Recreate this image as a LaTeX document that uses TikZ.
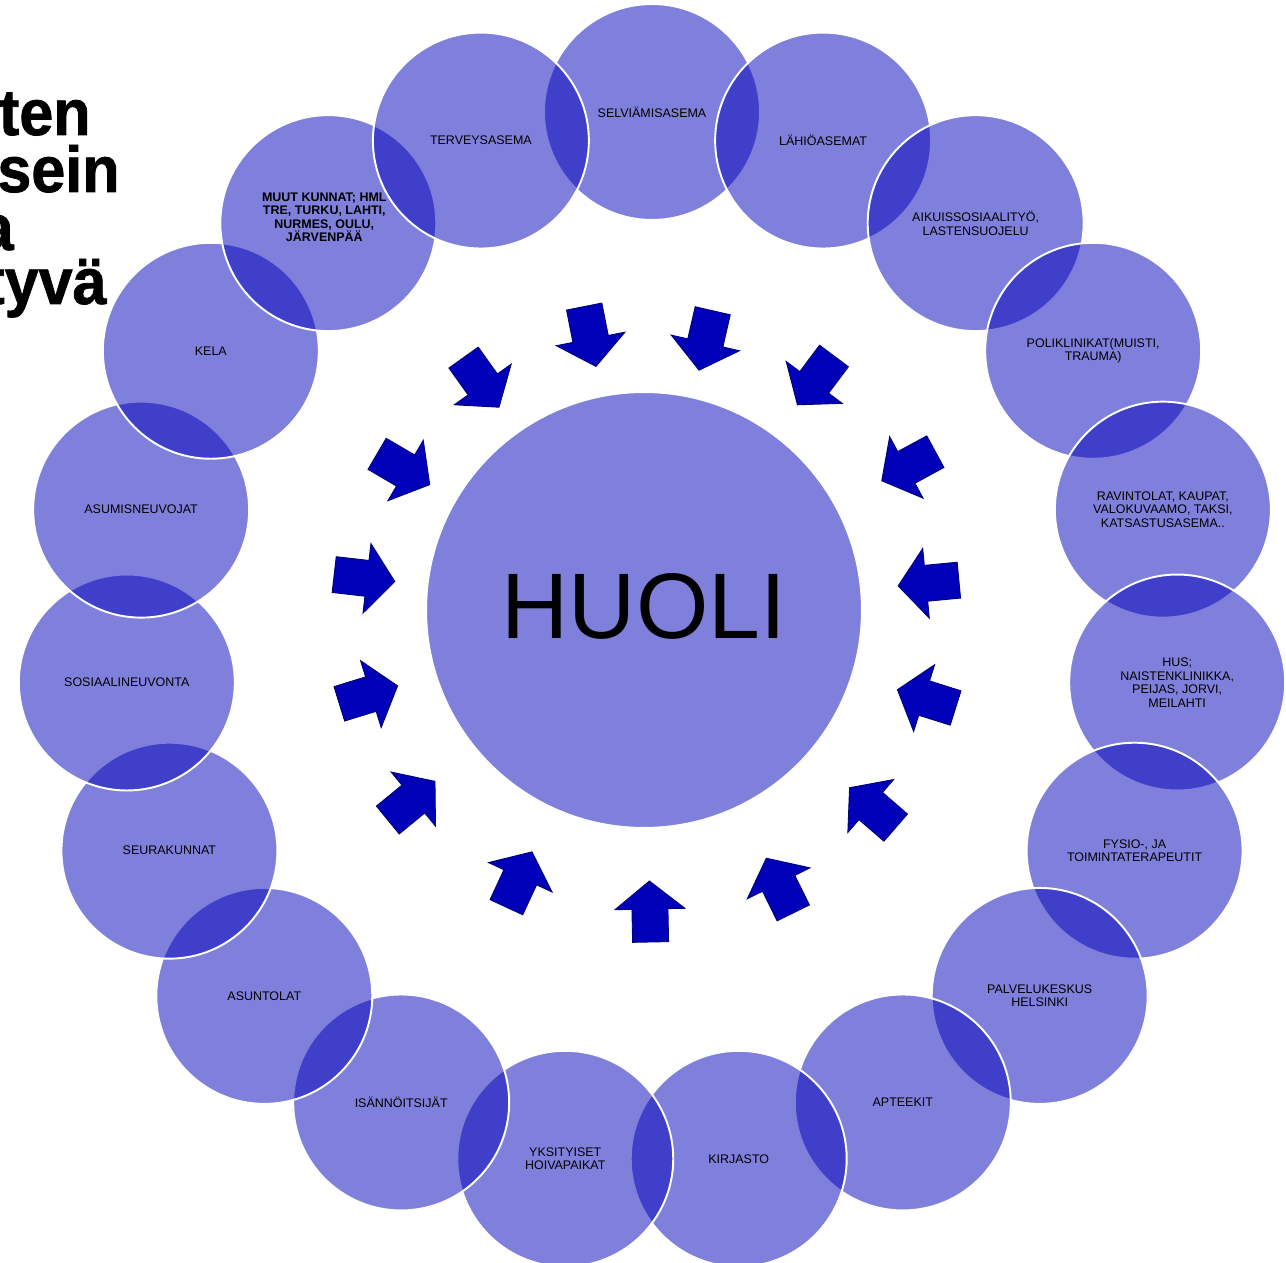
\documentclass[tikz,border=0pt]{standalone}
\usepackage{fontspec}
\setmainfont{Liberation Sans}
\newfontfamily\headfont[FakeStretch=0.94, FakeBold=1.2]{Liberation Sans Bold}

\definecolor{ringblue}{RGB}{0,0,185}
\definecolor{arrowblue}{RGB}{0,0,184}
\definecolor{arrowedge}{RGB}{0,0,120}

\tikzset{
  bubble/.style={circle, fill=ringblue, fill opacity=0.5, draw=white, line width=1.1pt,
    minimum size=4.32cm, inner sep=0pt},
  bubbletext/.style={align=center, inner sep=0pt, font=\fontsize{7.1}{7.7}\selectfont},
  heading/.style={inner sep=0pt, font=\fontsize{37}{33}\selectfont\headfont},
  pointer/.style={fill=arrowblue, draw=arrowedge, line width=0.5pt, line join=miter}
}

\begin{document}
\begin{tikzpicture}[x=0.02cm, y=-0.02cm]
  \useasboundingbox (0,0) rectangle (1286,1263);
  \clip (0,0) rectangle (1286,1263);

  % title, cut off at the left edge
  \node[heading, anchor=base east] (w1) at (91,135) {ten};
  \node[heading, anchor=base east] (w2) at (120,192) {sein};
  \node[heading, anchor=base east] (w3) at (14,250) {a};
  \node[heading, anchor=base east] (w4) at (107,304) {tyvä};

  % centre
  \node[bubble, minimum size=8.72cm] (huoli) at (644,610) {};
  \node[font=\fontsize{53}{53}\selectfont, inner sep=0pt] (huolitext) at (644,606) {HUOLI};

  % ring
  \foreach \i in {0,...,18}
    \node[bubble] (c\i) at ({652+527*cos(90-\i*360/19)}, {639-527*sin(90-\i*360/19)}) {};

  \foreach \i/\t in {0/SELVIÄMISASEMA, 1/LÄHIÖASEMAT,
      2/{AIKUISSOSIAALITYÖ,\\LASTENSUOJELU},
      3/{POLIKLINIKAT(MUISTI,\\TRAUMA)},
      4/{RAVINTOLAT, KAUPAT,\\VALOKUVAAMO, TAKSI,\\KATSASTUSASEMA..},
      5/{HUS;\\NAISTENKLINIKKA,\\PEIJAS, JORVI,\\MEILAHTI},
      6/{FYSIO-, JA\\TOIMINTATERAPEUTIT},
      7/{PALVELUKESKUS\\HELSINKI},
      8/APTEEKIT, 9/KIRJASTO,
      10/{YKSITYISET\\HOIVAPAIKAT},
      11/ISÄNNÖITSIJÄT, 12/ASUNTOLAT, 13/SEURAKUNNAT,
      14/SOSIAALINEUVONTA, 15/ASUMISNEUVOJAT, 16/KELA,
      18/TERVEYSASEMA}
    \node[bubbletext] (l\i) at (c\i) {\t};
  \node[bubbletext, font=\fontsize{7.1}{7.7}\selectfont\bfseries] (l17)
    at ([shift={(-4,-6)}]c17) {MUUT KUNNAT; HML\\TRE, TURKU, LAHTI,\\NURMES, OULU,\\JÄRVENPÄÄ};

  % arrows pointing in
  \foreach \x/\y in {590/336, 706/340, 816/380, 909/466, 929/583, 927/699,
      873/808, 780/886, 650/912, 519/880, 411/801, 368/695, 364/578,
      403/469, 481/382} {
    \pgfmathsetmacro\ang{atan2(\y-610, 644-\x)}
    \draw[pointer, shift={(\x,\y)}, rotate=\ang]
      (-30,-18) -- (3,-18) -- (3,-35) -- (31,0) -- (3,35) -- (3,18) -- (-30,18) -- cycle;
  }
\end{tikzpicture}
\end{document}
